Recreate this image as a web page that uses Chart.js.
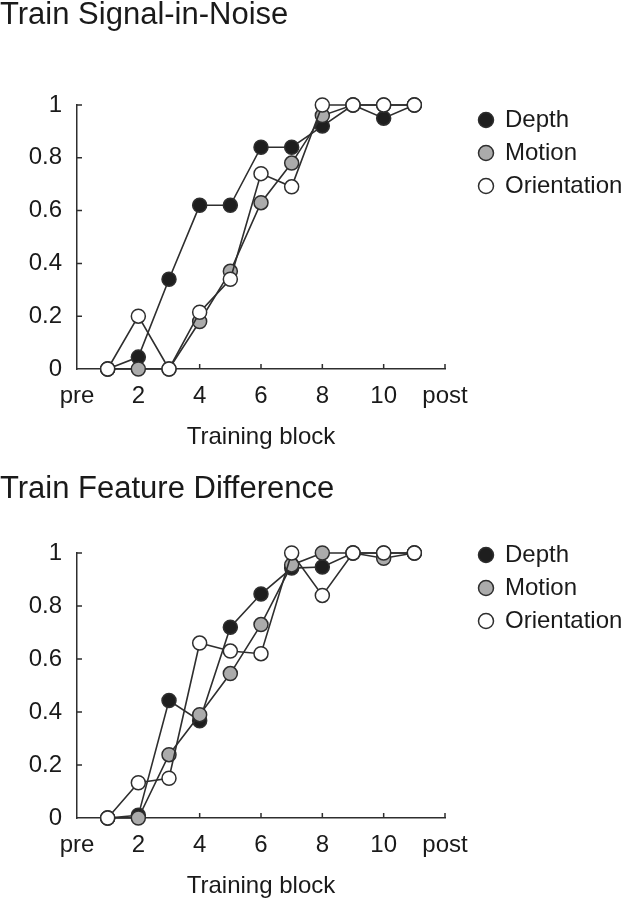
<!DOCTYPE html>
<html>
<head>
<meta charset="utf-8">
<script src="https://cdn.jsdelivr.net/npm/chart.js@4.4.1/dist/chart.umd.min.js"></script>
<style>
  body { margin: 0; background: #fff; overflow: hidden; }
  .panel { position: absolute; left: 0; width: 624px; height: 449px; }
  #top { top: 0; }
  #bottom { top: 449px; }
</style>
</head>
<body>
<div class="panel" id="top"><canvas id="signalChart"></canvas></div>
<div class="panel" id="bottom"><canvas id="featureChart"></canvas></div>
<script>
// training blocks (pre = 0, post = 12 on the axis)
const blocks = [1, 2, 3, 4, 5, 6, 7, 8, 9, 10, 11];
const xTickLabels = ['pre', '2', '4', '6', '8', '10', 'post'];
const yTickLabels = ['0', '0.2', '0.4', '0.6', '0.8', '1'];
const seriesNames = ['Depth', 'Motion', 'Orientation'];

// Train Signal-in-Noise
const signalDepth = [0, 0.045, 0.34, 0.62, 0.62, 0.84, 0.84, 0.92, 1, 0.95, 1];
const signalMotion = [0, 0, 0, 0.18, 0.37, 0.63, 0.78, 0.96, 1, 1, 1];
const signalOrientation = [0, 0.2, 0, 0.215, 0.34, 0.74, 0.69, 1, 1, 1, 1];

// Train Feature Difference
const featureDepth = [0, 0.01, 0.443, 0.367, 0.72, 0.845, 0.943, 0.947, 1, 1, 1];
const featureMotion = [0, 0, 0.239, 0.39, 0.545, 0.73, 0.955, 1, 1, 0.98, 1];
const featureOrientation = [0, 0.133, 0.15, 0.66, 0.63, 0.62, 1, 0.84, 1, 1, 1];

const fills = ['#1e1e1e', '#ababab', '#ffffff'];
const ink = '#2e2e2e';

Chart.defaults.font.family = "'Liberation Sans', Arial, sans-serif";
Chart.defaults.color = '#1a1a1a';

// ticks drawn inside the axes, like the original figure
const innerTicks = {
    id: 'innerTicks',
    beforeDatasetsDraw(chart) {
        const { ctx, chartArea, scales } = chart;
        ctx.save();
        ctx.strokeStyle = ink;
        ctx.lineWidth = 1.5;
        ctx.beginPath();
        scales.x.ticks.forEach(t => {
            if (t.value === 0) return;
            const px = scales.x.getPixelForValue(t.value);
            ctx.moveTo(px, chartArea.bottom);
            ctx.lineTo(px, chartArea.bottom - 5);
        });
        scales.y.ticks.forEach(t => {
            if (t.value === 0) return;
            const py = scales.y.getPixelForValue(t.value);
            ctx.moveTo(chartArea.left, py);
            ctx.lineTo(chartArea.left + 5, py);
        });
        ctx.stroke();
        ctx.restore();
    }
};

function makeDataset(label, values, fill) {
    return {
        label: label,
        data: blocks.map((b, i) => ({ x: b, y: values[i] })),
        borderColor: ink,
        borderWidth: 1.6,
        backgroundColor: fill,
        pointBackgroundColor: fill,
        pointBorderColor: ink,
        pointBorderWidth: 1.5,
        pointRadius: 7,
        pointStyle: 'circle',
        tension: 0,
        clip: false
    };
}

function makeChart(canvasId, titleText, depth, motion, orientation, titlePad, legendTop) {
    const ctx = document.getElementById(canvasId).getContext('2d');
    // first dataset is drawn on top, so Orientation goes first
    const datasets = [
        makeDataset(seriesNames[2], orientation, fills[2]),
        makeDataset(seriesNames[1], motion, fills[1]),
        makeDataset(seriesNames[0], depth, fills[0])
    ];
    return new Chart(ctx, {
        type: 'line',
        data: { datasets: datasets },
        plugins: [innerTicks],
        options: {
            responsive: true,
            maintainAspectRatio: false,
            animation: false,
            layout: { padding: 0 },
            plugins: {
                tooltip: { enabled: false },
                title: {
                    display: true,
                    text: titleText,
                    align: 'start',
                    color: '#1a1a1a',
                    font: { size: 31, weight: 'normal', lineHeight: 1 },
                    padding: titlePad
                },
                legend: {
                    position: 'right',
                    align: 'start',
                    reverse: true,
                    maxWidth: 154,
                    title: {
                        display: true,
                        text: ' ',
                        font: { size: 10, lineHeight: 1 },
                        padding: { top: legendTop, bottom: 0 }
                    },
                    labels: {
                        usePointStyle: true,
                        boxWidth: 14,
                        boxHeight: 10.6,
                        padding: 9,
                        color: '#1a1a1a',
                        font: { size: 24 }
                    }
                }
            },
            scales: {
                x: {
                    type: 'linear',
                    min: 0,
                    max: 12,
                    grid: { display: false, drawTicks: false },
                    border: { display: true, color: ink, width: 1.5 },
                    ticks: {
                        stepSize: 2,
                        autoSkip: false,
                        maxRotation: 0,
                        padding: 13,
                        font: { size: 24 },
                        callback: (v, i) => xTickLabels[i]
                    },
                    title: {
                        display: true,
                        text: 'Training block',
                        font: { size: 24, lineHeight: 1 },
                        padding: { top: 0, bottom: 0 }
                    },
                    afterFit(scale) { scale.height = 80; }
                },
                y: {
                    min: 0,
                    max: 1,
                    grid: { display: false, drawTicks: false },
                    border: { display: true, color: ink, width: 1.5 },
                    ticks: {
                        stepSize: 0.2,
                        padding: 15,
                        font: { size: 24 },
                        callback: (v, i) => yTickLabels[i]
                    },
                    afterFit(scale) { scale.width = 77; }
                },
                // empty right axis keeps the gap between plot and legend
                gap: {
                    position: 'right',
                    display: true,
                    grid: { display: false, drawTicks: false },
                    border: { display: false },
                    ticks: { display: false },
                    afterFit(scale) { scale.width = 25; }
                }
            }
        }
    });
}

makeChart('signalChart', 'Train Signal-in-Noise',
    signalDepth, signalMotion, signalOrientation,
    { top: 0, bottom: 74 }, 89);

makeChart('featureChart', 'Train Feature Difference',
    featureDepth, featureMotion, featureOrientation,
    { top: 25, bottom: 48 }, 75);
</script>
</body>
</html>
